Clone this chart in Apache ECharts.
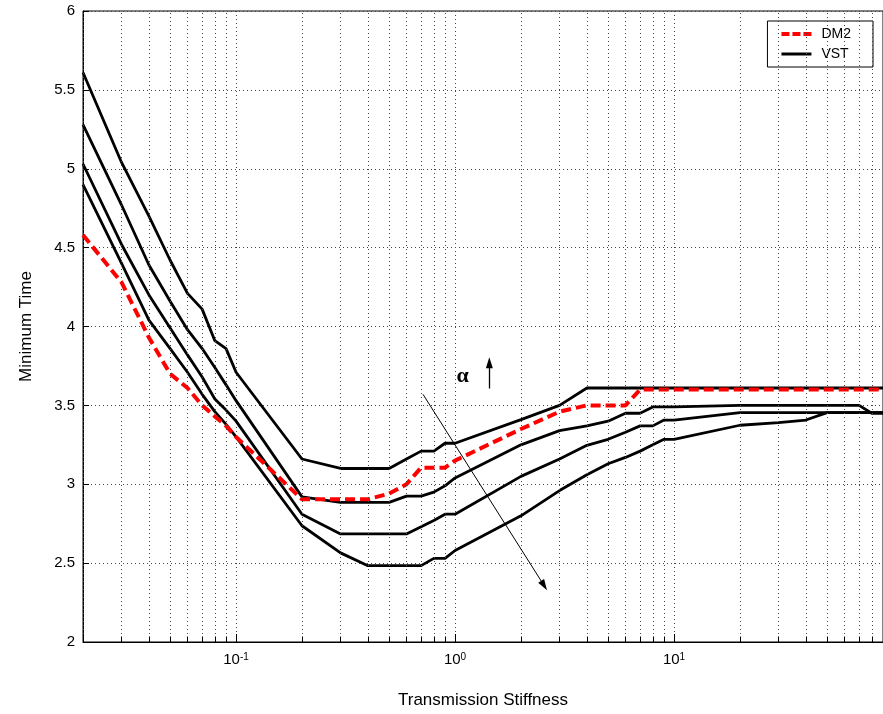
<!DOCTYPE html>
<html><head><meta charset="utf-8">
<script src="https://cdn.jsdelivr.net/npm/echarts@6/dist/echarts.min.js"></script>
<style>html,body{margin:0;padding:0;background:#fff}#c{width:883px;height:714px}</style>
</head><body><div id="c"></div>
<script>
// ---- data ----
const stiffness = [0.02,0.03,0.04,0.05,0.06,0.07,0.08,0.09,0.1,
                   0.2,0.3,0.4,0.5,0.6,0.7,0.8,0.9,1,
                   2,3,4,5,6,7,8,9,10,
                   20,30,40,50,60,70,80,90];
const dm2  = [4.58,4.28,3.93,3.70,3.61,3.50,3.43,3.37,3.30,
              2.905,2.905,2.905,2.94,3.00,3.105,3.105,3.105,3.15,
              3.35,3.46,3.50,3.50,3.50,3.60,3.60,3.60,3.60,
              3.60,3.60,3.60,3.60,3.60,3.60,3.60,3.60];
const vst1 = [5.61,5.04,4.70,4.42,4.21,4.11,3.91,3.86,3.71,
              3.16,3.10,3.10,3.10,3.16,3.21,3.21,3.26,3.26,
              3.41,3.50,3.61,3.61,3.61,3.61,3.61,3.61,3.61,
              3.61,3.61,3.61,3.61,3.61,3.61,3.61,3.61];
const vst2 = [5.28,4.77,4.39,4.16,3.98,3.86,3.74,3.63,3.53,
              2.92,2.885,2.885,2.885,2.925,2.925,2.95,2.99,3.04,
              3.25,3.34,3.37,3.40,3.45,3.45,3.49,3.49,3.49,
              3.50,3.50,3.50,3.50,3.50,3.50,3.45,3.45];
const vst3 = [5.03,4.52,4.20,3.99,3.82,3.68,3.54,3.47,3.40,
              2.81,2.685,2.685,2.685,2.685,2.73,2.77,2.81,2.81,
              3.05,3.16,3.247,3.285,3.33,3.37,3.37,3.407,3.407,
              3.454,3.454,3.454,3.454,3.454,3.454,3.454,3.454];
const vst4 = [4.90,4.40,4.04,3.86,3.71,3.57,3.46,3.38,3.30,
              2.737,2.565,2.484,2.484,2.484,2.484,2.53,2.53,2.58,
              2.80,2.96,3.06,3.13,3.17,3.21,3.25,3.285,3.285,
              3.374,3.39,3.407,3.454,3.454,3.454,3.454,3.454];
const minorGrid = [0.02,0.03,0.04,0.05,0.06,0.07,0.08,0.09,
                   0.2,0.3,0.4,0.5,0.6,0.7,0.8,0.9,
                   2,3,4,5,6,7,8,9,
                   20,30,40,50,60,70,80,90];
const xMin = 0.02, xMax = 90;
const yMin = 2, yMax = 6, yStep = 0.5;
// annotation anchors (data coordinates)
const arrowMain = [[0.714,3.57],[2.55,2.358]];
const arrowUp = [[1.434,3.607],[1.434,3.77]];
const alphaPos = [1.084,3.683];

const FONT = '"Liberation Sans", Arial, Helvetica, sans-serif';
const pairs = ys => stiffness.map((x,i)=>[x, ys[i]]);
const blackLine = ys => ({
  type:'line', name:'VST', data:pairs(ys), symbol:'none', z:3,
  lineStyle:{color:'#000', width:2.8}, itemStyle:{color:'#000'}
});

const chart = echarts.init(document.getElementById('c'), null, {renderer:'canvas'});
chart.setOption({
  animation:false,
  backgroundColor:'#fff',
  grid:{left:83, top:11, right:-4, bottom:71, show:true, borderColor:'#000', borderWidth:1, backgroundColor:'transparent'},
  legend:{
    data:[
      {name:'DM2', icon:'path://M0,0h8v4h-8z M11,0h8v4h-8z M22,0h8v4h-8z', itemStyle:{color:'#ff0000'}},
      {name:'VST', icon:'path://M0,0.5h30v3h-30z', itemStyle:{color:'#000'}}
    ],
    orient:'vertical', right:10, top:21,
    backgroundColor:'#fff', borderColor:'#000', borderWidth:1,
    padding:[5,22,5,14], itemWidth:30, itemHeight:4, itemGap:4,
    textStyle:{fontFamily:FONT, fontSize:14, color:'#000', padding:[0,0,0,5], lineHeight:16}
  },
  xAxis:{
    type:'log', logBase:10, min:xMin, max:xMax,
    name:'Transmission Stiffness', nameLocation:'middle', nameGap:50,
    nameTextStyle:{fontFamily:FONT, fontSize:17, color:'#000'},
    axisLine:{lineStyle:{color:'#000', width:1}},
    axisTick:{inside:true, length:8, lineStyle:{color:'#000'}},
    splitLine:{show:true, lineStyle:{color:'#444', type:[1,3], width:1}},
    axisLabel:{
      margin:10, color:'#000', showMinLabel:false, showMaxLabel:false,
      formatter:function(v){
        const e = Math.round(Math.log10(v));
        if (Math.abs(v - Math.pow(10,e)) > 1e-6*v) return '';
        return '{b|10}{s|' + e + '}';
      },
      rich:{
        b:{fontFamily:FONT, fontSize:15, color:'#000'},
        s:{fontFamily:FONT, fontSize:10, color:'#000', verticalAlign:'top'}
      }
    }
  },
  yAxis:{
    type:'value', min:yMin, max:yMax, interval:yStep,
    name:'Minimum Time', nameLocation:'middle', nameGap:48,
    nameTextStyle:{fontFamily:FONT, fontSize:17, color:'#000'},
    axisLine:{show:true, lineStyle:{color:'#000', width:1}},
    axisTick:{show:true, inside:true, length:6, lineStyle:{color:'#000'}},
    splitLine:{show:true, lineStyle:{color:'#444', type:[1,3], width:1}},
    axisLabel:{fontFamily:FONT, fontSize:15, color:'#000', margin:8,
      formatter:v=>String(v)}
  },
  series:[
    {
      type:'line', name:'_grid', data:[[1,2]], symbol:'none', silent:true, z:1,
      lineStyle:{opacity:0},
      markLine:{
        silent:true, symbol:['none','none'], label:{show:false}, animation:false,
        lineStyle:{color:'#444', type:[1,3], width:1},
        emphasis:{disabled:true},
        data: minorGrid.map(v=>({xAxis:v})).concat(
          minorGrid.map(v=>[{coord:[v,yMin], lineStyle:{type:'solid', color:'#000', width:1}},{coord:[v,yMin+0.035]}])
        )
      }
    },
    blackLine(vst1), blackLine(vst2), blackLine(vst3), blackLine(vst4),
    {
      type:'line', name:'DM2', data:pairs(dm2), symbol:'none', z:4,
      lineStyle:{color:'#ff0000', width:4, type:[10,5]}, itemStyle:{color:'#ff0000'}
    },
    {
      type:'line', name:'_annot', data:[[1,2]], symbol:'none', silent:true, z:5,
      lineStyle:{opacity:0},
      markLine:{
        silent:true, symbol:['none','triangle'], symbolSize:[7,11], label:{show:false},
        lineStyle:{color:'#000', type:'solid', width:1},
        itemStyle:{color:'#000'},
        emphasis:{disabled:true},
        data:[
          [{coord:arrowMain[0]},{coord:arrowMain[1]}],
          [{coord:arrowUp[0], lineStyle:{width:1.3}},{coord:arrowUp[1]}]
        ]
      },
      markPoint:{
        silent:true, symbol:'rect', symbolSize:1, itemStyle:{color:'rgba(0,0,0,0)'},
        label:{show:true, position:'inside', formatter:'α', fontFamily:'"Liberation Serif", "Times New Roman", serif', fontWeight:'bold', fontSize:22, color:'#000'},
        data:[{coord:alphaPos}]
      }
    }
  ]
});
</script>
</body></html>
